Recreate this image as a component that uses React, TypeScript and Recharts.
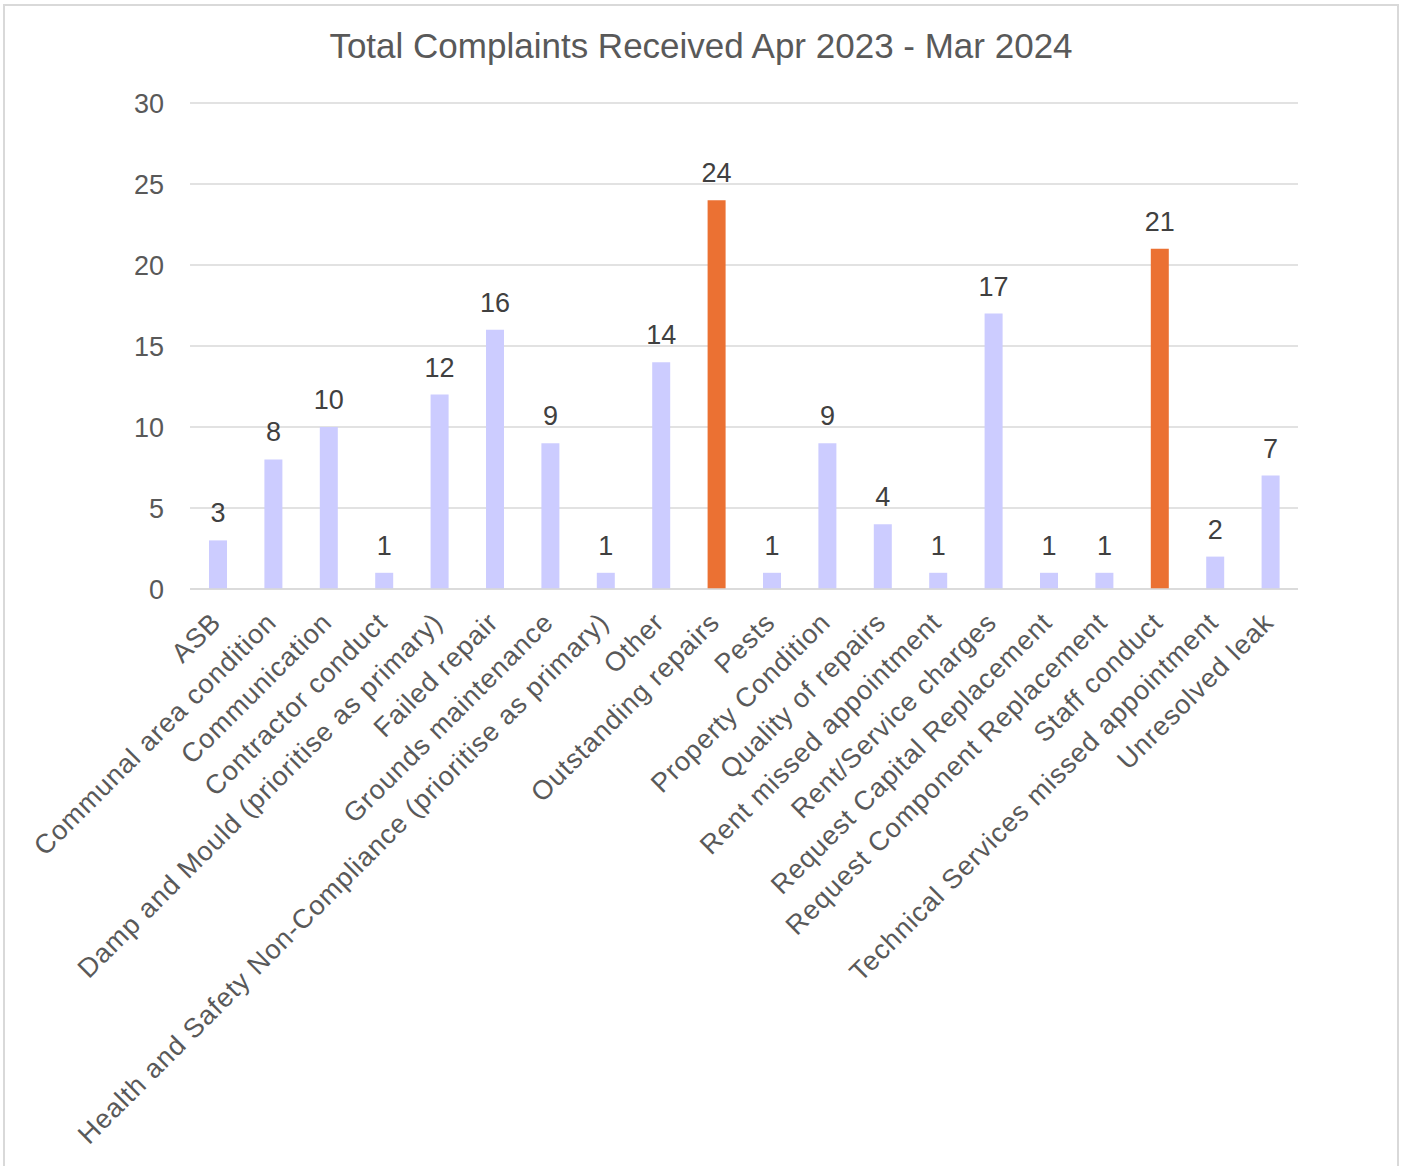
import React from 'react';
import { BarChart, Bar, XAxis, YAxis, CartesianGrid, LabelList, Cell } from 'recharts';

const categories = [
  'ASB',
  'Communal area condition',
  'Communication',
  'Contractor conduct',
  'Damp and Mould (prioritise as primary)',
  'Failed repair',
  'Grounds maintenance',
  'Health and Safety Non-Compliance (prioritise as primary)',
  'Other',
  'Outstanding repairs',
  'Pests',
  'Property Condition',
  'Quality of repairs',
  'Rent missed appointment',
  'Rent/Service charges',
  'Request Capital Replacement',
  'Request Component Replacement',
  'Staff conduct',
  'Technical Services missed appointment',
  'Unresolved leak',
];

const complaints = [3, 8, 10, 1, 12, 16, 9, 1, 14, 24, 1, 9, 4, 1, 17, 1, 1, 21, 2, 7];

const highlighted = ['Outstanding repairs', 'Staff conduct'];

const yTicks = [0, 5, 10, 15, 20, 25, 30];

const title = 'Total Complaints Received Apr 2023 - Mar 2024';

const data = categories.map((c, i) => ({ category: c, value: complaints[i] }));

const FONT = '"Liberation Sans", Arial, sans-serif';
const BASE_COLOR = '#CCCCFF';
const HIGHLIGHT_COLOR = '#EB7133';

const XTick = (props: any) => {
  const { x, y, payload } = props;
  return (
    <g transform={`translate(${x + 5},${y + 35})`}>
      <text
        transform="rotate(-45)"
        textAnchor="end"
        x={0}
        y={0}
        fill="#595959"
        fontSize={27}
        letterSpacing={0.95}
        fontFamily={FONT}
      >
        {payload.value}
      </text>
    </g>
  );
};

export default function App() {
  return (
    <div style={{ position: 'relative', width: 1403, height: 1166, overflow: 'hidden', background: '#fff' }}>
      <style>{'body{margin:0;}'}</style>
      <div
        style={{
          position: 'absolute',
          left: 3,
          top: 4,
          width: 1396,
          height: 1180,
          border: '2px solid #d9d9d9',
          boxSizing: 'border-box',
        }}
      />
      <svg style={{ position: 'absolute', left: 0, top: 0 }} width={1403} height={80}>
        <text x={701} y={58} textAnchor="middle" fontSize={35} fill="#595959" fontFamily={FONT}>
          {title}
        </text>
      </svg>
      <div style={{ position: 'absolute', left: 0, top: 0 }}>
        <BarChart
          width={1403}
          height={1166}
          data={data}
          margin={{ top: 103, right: 105, left: 130, bottom: 17 }}
        >
          <CartesianGrid horizontal vertical={false} stroke="#d9d9d9" strokeWidth={1.3} />
          <XAxis
            dataKey="category"
            interval={0}
            height={560}
            tick={<XTick />}
            tickLine={false}
            tickSize={0}
            tickMargin={0}
            axisLine={{ stroke: '#d9d9d9', strokeWidth: 1.3 }}
          />
          <YAxis
            width={60}
            domain={[0, 30]}
            ticks={yTicks}
            interval={0}
            axisLine={false}
            tickLine={false}
            tickSize={0}
            tickMargin={26}
            tick={{ fill: '#595959', fontSize: 27, fontFamily: FONT }}
          />
          <Bar dataKey="value" barSize={18} isAnimationActive={false}>
            {data.map((d) => (
              <Cell key={d.category} fill={highlighted.includes(d.category) ? HIGHLIGHT_COLOR : BASE_COLOR} />
            ))}
            <LabelList
              dataKey="value"
              position="top"
              offset={18}
              fill="#404040"
              fontSize={27}
              fontFamily={FONT}
            />
          </Bar>
        </BarChart>
      </div>
    </div>
  );
}
